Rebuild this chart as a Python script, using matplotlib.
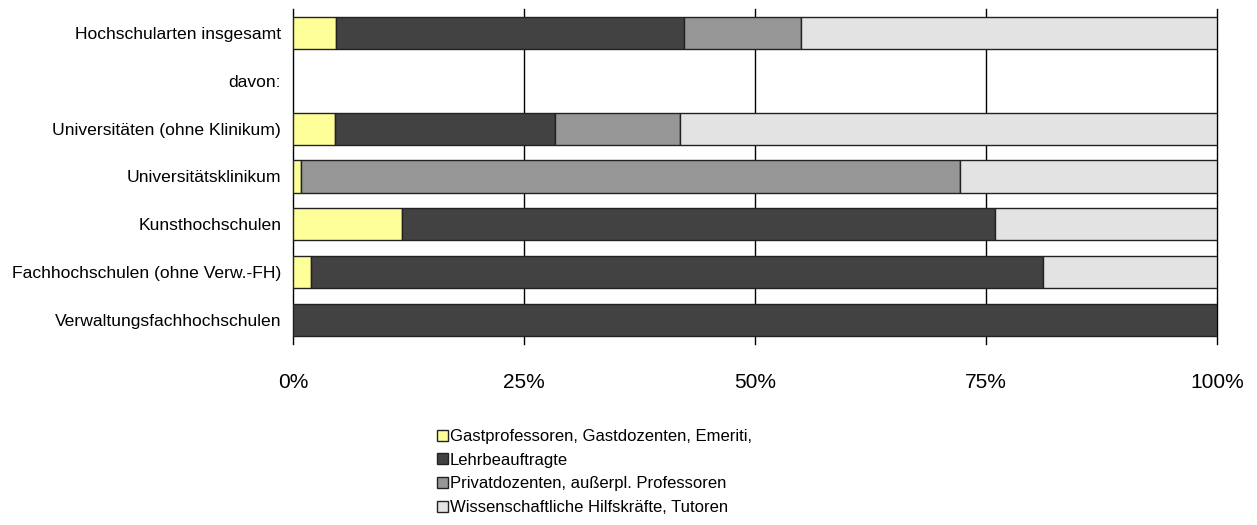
import matplotlib
matplotlib.use('AGG')

import numpy as np
import matplotlib.pyplot as plt

plt.rcParams['font.family'] = ['Liberation Sans', 'DejaVu Sans']

# categories, top to bottom ("davon:" is an empty row)
categories = ['Hochschularten insgesamt', 'davon:', 'Universitäten (ohne Klinikum)',
              'Universitätsklinikum', 'Kunsthochschulen',
              'Fachhochschulen (ohne Verw.-FH)', 'Verwaltungsfachhochschulen']

series_names = ['Gastprofessoren, Gastdozenten, Emeriti,',
                'Lehrbeauftragte',
                'Privatdozenten, außerpl. Professoren',
                'Wissenschaftliche Hilfskräfte, Tutoren']

# shares in percent
gast = [4.7, 0, 4.5, 0.9, 11.8, 1.9, 0.0]
lehr = [37.6, 0, 23.9, 0.0, 64.2, 79.3, 100.0]
priv = [12.7, 0, 13.5, 71.3, 0.0, 0.0, 0.0]
hilf = [45.0, 0, 58.1, 27.8, 24.0, 18.8, 0.0]

colors = ['#FFFF99', '#424242', '#969696', '#E3E3E3']
xticks = [0, 25, 50, 75, 100]
xticklabels = ['0%', '25%', '50%', '75%', '100%']

fig = plt.figure(figsize=(12.57, 5.25), dpi=100)
ax = fig.add_axes([0.2331, 0.3448, 0.7351, 0.6381])

y = np.arange(len(categories))
left = np.zeros(len(categories))
for vals, c, name in zip([gast, lehr, priv, hilf], colors, series_names):
    vals = np.array(vals)
    show = vals > 0
    ax.barh(y[show], vals[show], left=left[show], height=0.67, color=c,
            edgecolor='#222222', linewidth=1.0, label=name, zorder=3)
    left += vals

ax.set_ylim(len(categories) - 0.5, -0.5)
ax.set_xlim(0, 100)
ax.set_yticks(y)
ax.set_yticklabels(categories, fontsize=12.6)
ax.set_xticks(xticks)
ax.set_xticklabels(xticklabels, fontsize=15)
ax.tick_params(axis='both', length=0)
ax.tick_params(axis='y', pad=8.5)
ax.tick_params(axis='x', pad=21)

for s in ['top', 'bottom', 'right']:
    ax.spines[s].set_visible(False)
ax.spines['left'].set_color('black')
ax.spines['left'].set_linewidth(1.0)
for xv in xticks[1:]:
    ax.axvline(xv, color='black', linewidth=1.0, zorder=1, clip_on=False)

handles, labels = ax.get_legend_handles_labels()
fig.legend(handles, labels, loc='upper left', bbox_to_anchor=(0.3477, 0.183),
           frameon=False, fontsize=12.0, handlelength=0.65, handleheight=0.65,
           handletextpad=0.12, labelspacing=0.52, borderpad=0, borderaxespad=0)

plt.savefig('out.png', dpi=100)
plt.close(fig)
